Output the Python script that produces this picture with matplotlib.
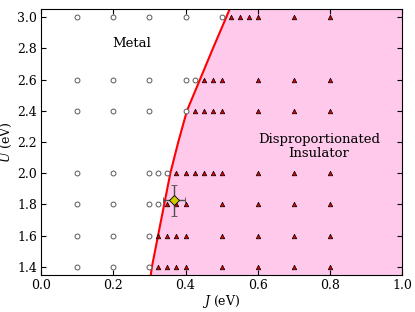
import matplotlib
matplotlib.use("Agg")
import matplotlib.pyplot as plt
import numpy as np

plt.rcParams['font.family'] = 'DejaVu Serif'
plt.rcParams['mathtext.fontset'] = 'dejavuserif'

# metallic (open circles) and insulating (triangles) points, per U row
U_rows = [3.0, 2.6, 2.4, 2.0, 1.8, 1.6, 1.4]
metal_J = [
    [0.1, 0.2, 0.3, 0.4, 0.5],
    [0.1, 0.2, 0.3, 0.4, 0.425],
    [0.1, 0.2, 0.3, 0.4],
    [0.1, 0.2, 0.3, 0.325, 0.35],
    [0.1, 0.2, 0.3, 0.325],
    [0.1, 0.2, 0.3],
    [0.1, 0.2, 0.3],
]
ins_J = [
    [0.525, 0.55, 0.575, 0.6, 0.7, 0.8],
    [0.45, 0.475, 0.5, 0.6, 0.7, 0.8],
    [0.425, 0.45, 0.475, 0.5, 0.6, 0.7, 0.8],
    [0.375, 0.4, 0.425, 0.45, 0.475, 0.5, 0.6, 0.7, 0.8],
    [0.35, 0.375, 0.4, 0.5, 0.6, 0.7, 0.8],
    [0.325, 0.35, 0.375, 0.4, 0.5, 0.6, 0.7, 0.8],
    [0.325, 0.35, 0.375, 0.4, 0.5, 0.6, 0.7, 0.8],
]

# phase boundary
bound_U = [1.35, 1.4, 1.6, 1.8, 2.0, 2.2, 2.4, 2.6, 2.8, 3.0, 3.05]
bound_J = [0.304, 0.307, 0.324, 0.341, 0.358, 0.380, 0.404, 0.440, 0.476, 0.513, 0.522]

# experimental estimate
exp_J, exp_U = 0.369, 1.825
exp_dJ, exp_dU = 0.03, 0.1

fig = plt.figure(figsize=(4.15, 3.12), dpi=100)
ax = fig.add_axes([0.099, 0.12, 0.87, 0.85])

ax.fill_betweenx(bound_U, bound_J, 1.0, color='#ffc9ec', lw=0)
ax.plot(bound_J, bound_U, color='red', lw=1.5)

for u, mj, ij in zip(U_rows, metal_J, ins_J):
    ax.plot(mj, [u]*len(mj), 'o', ms=3.5, mfc='white', mec='0.35', mew=0.7)
    ax.plot(ij, [u]*len(ij), '^', ms=3.3, mfc='#dd0000', mec='black', mew=0.5)

ax.errorbar(exp_J, exp_U, xerr=exp_dJ, yerr=exp_dU, fmt='D', ms=5,
            mfc='#cccc00', mec='black', mew=0.6, ecolor='0.3', elinewidth=1,
            capsize=2.5, zorder=5)

ax.text(0.252, 2.83, 'Metal', fontsize=9.5, ha='center', va='center')
ax.text(0.77, 2.17, 'Disproportionated\nInsulator', fontsize=9.5,
        ha='center', va='center', linespacing=1.1)

ax.set_xlim(0, 1)
ax.set_ylim(1.35, 3.05)
ax.set_xticks(np.arange(0, 1.01, 0.2))
ax.set_yticks(np.arange(1.4, 3.01, 0.2))
ax.tick_params(direction='in', top=True, right=True, labelsize=9, length=3.5, pad=3)
ax.set_xlabel('$J$ (eV)', fontsize=9, labelpad=1)
ax.set_ylabel('$U$ (eV)', fontsize=9, labelpad=2)

fig.savefig('out.png', dpi=100)
